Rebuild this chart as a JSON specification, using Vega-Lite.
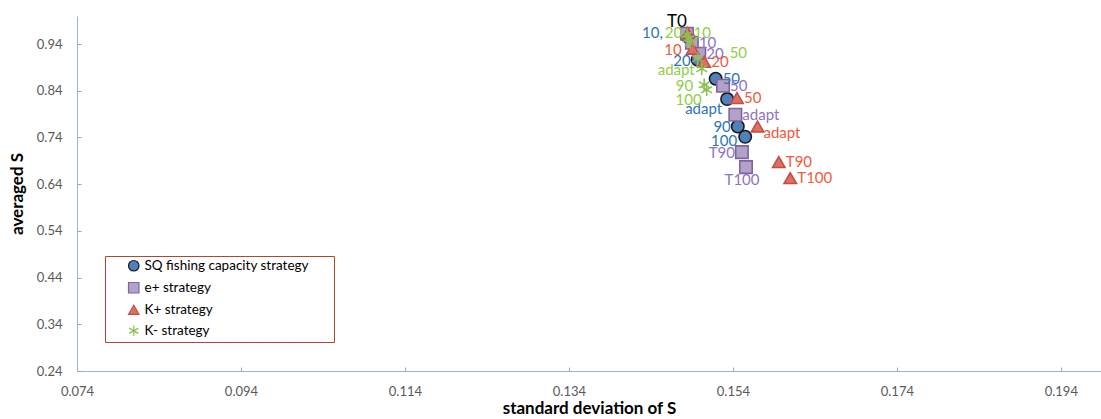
{
  "$schema": "https://vega.github.io/schema/vega-lite/v6.json",
  "width": 1024,
  "height": 355,
  "autosize": {"type": "none"},
  "padding": {"left": 77, "top": 16, "right": 0, "bottom": 48},
  "background": "white",
  "config": {
    "font": "Lato",
    "view": {"stroke": null},
    "axis": {"grid": false, "labelFont": "Lato", "titleFont": "Lato", "labelColor": "#595959", "labelFontSize": 13, "titleFontSize": 16, "titleFontWeight": "bold", "titleColor": "#000000", "domainColor": "#93b9c9", "tickColor": "#a0a0a0", "tickSize": -4},
    "legend": {"orient": "none", "legendX": 28, "legendY": 240, "strokeColor": "#b5462b", "padding": 3, "symbolOffset": 19, "labelFontSize": 13.5, "labelColor": "#000000", "labelFont": "Lato", "rowPadding": 6, "symbolSize": 110, "symbolStrokeWidth": 1.2, "labelLimit": 400, "titleOrient": "right", "titleColor": "rgba(255,255,255,0)", "titleFontSize": 13, "titleFontWeight": "normal", "titlePadding": 0}
  },
  "data": {
    "values": [
      {"strategy": "SQ fishing capacity strategy", "code": "SQ", "step": "T0", "sd": 0.1484, "avg": 0.960},
      {"strategy": "SQ fishing capacity strategy", "code": "SQ", "step": "10", "sd": 0.1485, "avg": 0.9557},
      {"strategy": "SQ fishing capacity strategy", "code": "SQ", "step": "20", "sd": 0.1497, "avg": 0.9064},
      {"strategy": "SQ fishing capacity strategy", "code": "SQ", "step": "50", "sd": 0.1519, "avg": 0.8657},
      {"strategy": "SQ fishing capacity strategy", "code": "SQ", "step": "adapt", "sd": 0.1533, "avg": 0.8222},
      {"strategy": "SQ fishing capacity strategy", "code": "SQ", "step": "90", "sd": 0.1546, "avg": 0.7635},
      {"strategy": "SQ fishing capacity strategy", "code": "SQ", "step": "100", "sd": 0.1555, "avg": 0.7414},
      {"strategy": "e+ strategy", "code": "e+", "step": "T0", "sd": 0.1484, "avg": 0.9621},
      {"strategy": "e+ strategy", "code": "e+", "step": "10", "sd": 0.1490, "avg": 0.9428},
      {"strategy": "e+ strategy", "code": "e+", "step": "20", "sd": 0.1499, "avg": 0.9192},
      {"strategy": "e+ strategy", "code": "e+", "step": "50", "sd": 0.1528, "avg": 0.8507},
      {"strategy": "e+ strategy", "code": "e+", "step": "adapt", "sd": 0.1543, "avg": 0.7885},
      {"strategy": "e+ strategy", "code": "e+", "step": "T90", "sd": 0.1551, "avg": 0.7086},
      {"strategy": "e+ strategy", "code": "e+", "step": "T100", "sd": 0.1556, "avg": 0.6765},
      {"strategy": "K+ strategy", "code": "K+", "step": "T0", "sd": 0.1485, "avg": 0.9636},
      {"strategy": "K+ strategy", "code": "K+", "step": "10", "sd": 0.1491, "avg": 0.9300},
      {"strategy": "K+ strategy", "code": "K+", "step": "20", "sd": 0.1505, "avg": 0.9021},
      {"strategy": "K+ strategy", "code": "K+", "step": "50", "sd": 0.1545, "avg": 0.8243},
      {"strategy": "K+ strategy", "code": "K+", "step": "adapt", "sd": 0.1570, "avg": 0.7635},
      {"strategy": "K+ strategy", "code": "K+", "step": "T90", "sd": 0.1596, "avg": 0.6872},
      {"strategy": "K+ strategy", "code": "K+", "step": "T100", "sd": 0.1610, "avg": 0.6529},
      {"strategy": "K- strategy", "code": "K-", "step": "T0", "sd": 0.1484, "avg": 0.960},
      {"strategy": "K- strategy", "code": "K-", "step": "10", "sd": 0.1486, "avg": 0.9514},
      {"strategy": "K- strategy", "code": "K-", "step": "20", "sd": 0.1488, "avg": 0.9428},
      {"strategy": "K- strategy", "code": "K-", "step": "50", "sd": 0.1497, "avg": 0.9085},
      {"strategy": "K- strategy", "code": "K-", "step": "adapt", "sd": 0.1502, "avg": 0.8871},
      {"strategy": "K- strategy", "code": "K-", "step": "90", "sd": 0.1505, "avg": 0.8528},
      {"strategy": "K- strategy", "code": "K-", "step": "100", "sd": 0.1508, "avg": 0.8421}
    ]
  },
  "encoding": {
    "x": {"field": "sd", "type": "quantitative", "title": "standard deviation of S",
      "scale": {"domain": [0.074, 0.1989], "nice": false, "zero": false},
      "axis": {"values": [0.074, 0.094, 0.114, 0.134, 0.154, 0.174, 0.194], "format": ".3f", "labelPadding": 18, "titlePadding": 2, "labelFlush": false, "titleFontSize": 17}},
    "y": {"field": "avg", "type": "quantitative", "title": "averaged S",
      "scale": {"domain": [0.24, 1.0], "nice": false, "zero": false},
      "axis": {"values": [0.24, 0.34, 0.44, 0.54, 0.64, 0.74, 0.84, 0.94], "format": ".2f", "labelPadding": 19, "titlePadding": 10, "labelFlush": false, "titleFontSize": 17}}
  },
  "layer": [
    {
      "mark": {"type": "point", "size": 155, "strokeWidth": 1.6, "opacity": 1, "fillOpacity": 1},
      "encoding": {
        "fill": {"field": "strategy", "type": "nominal",
          "scale": {"domain": ["SQ fishing capacity strategy", "e+ strategy", "K+ strategy", "K- strategy"], "range": ["#4f81bd", "#b3a2c7", "#e0705c", "transparent"]},
          "legend": {"title": "nnn"}},
        "stroke": {"field": "strategy", "type": "nominal",
          "scale": {"domain": ["SQ fishing capacity strategy", "e+ strategy", "K+ strategy", "K- strategy"], "range": ["#1a1a1a", "#8064a2", "#c0504d", "#8cc152"]},
          "legend": {"title": "nnn"}},
        "shape": {"field": "strategy", "type": "nominal",
          "scale": {"domain": ["SQ fishing capacity strategy", "e+ strategy", "K+ strategy", "K- strategy"], "range": ["circle", "square", "triangle-up", "M0,-1L0,1M-0.87,-0.5L0.87,0.5M-0.87,0.5L0.87,-0.5"]},
          "legend": {"title": "nnn"}}
      }
    },
    {
      "transform": [{"filter": "indexof(['SQ|50','e+|10','e+|20','e+|50','e+|adapt','K+|20','K+|50','K+|T90','K+|T100'], datum.code + '|' + datum.step) >= 0"}],
      "mark": {"type": "text", "align": "left", "baseline": "middle", "dx": 7, "dy": 0, "fontSize": 15},
      "encoding": {"text": {"field": "step"}, "color": {"field": "strategy", "type": "nominal", "legend": null, "scale": {"domain": ["SQ fishing capacity strategy", "e+ strategy", "K+ strategy", "K- strategy"], "range": ["#2e75b6", "#8e74c4", "#f05a3c", "#8fce4a"]}}}
    },
    {
      "transform": [{"filter": "indexof(['SQ|20','SQ|90','K-|adapt','e+|T90'], datum.code + '|' + datum.step) >= 0"}],
      "mark": {"type": "text", "align": "right", "baseline": "middle", "dx": -7, "dy": 1, "fontSize": 15},
      "encoding": {"text": {"field": "step"}, "color": {"field": "strategy", "type": "nominal", "legend": null}}
    },
    {
      "transform": [{"filter": "indexof(['K+|10','K-|90'], datum.code + '|' + datum.step) >= 0"}],
      "mark": {"type": "text", "align": "right", "baseline": "middle", "dx": -11, "dy": 1, "fontSize": 15},
      "encoding": {"text": {"field": "step"}, "color": {"field": "strategy", "type": "nominal", "legend": null}}
    },
    {
      "transform": [{"filter": "indexof(['SQ|adapt','K-|100'], datum.code + '|' + datum.step) >= 0"}],
      "mark": {"type": "text", "align": "right", "baseline": "middle", "dx": -5, "dy": 10, "fontSize": 15},
      "encoding": {"text": {"field": "step"}, "color": {"field": "strategy", "type": "nominal", "legend": null}}
    },
    {
      "transform": [{"filter": "datum.code == 'SQ' && datum.step == '100'"}],
      "mark": {"type": "text", "align": "right", "baseline": "middle", "dx": -8, "dy": 4, "fontSize": 15},
      "encoding": {"text": {"field": "step"}, "color": {"field": "strategy", "type": "nominal", "legend": null}}
    },
    {
      "transform": [{"filter": "datum.code == 'e+' && datum.step == 'T100'"}],
      "mark": {"type": "text", "align": "center", "baseline": "middle", "dx": -4, "dy": 13, "fontSize": 15},
      "encoding": {"text": {"field": "step"}, "color": {"field": "strategy", "type": "nominal", "legend": null}}
    },
    {
      "transform": [{"filter": "datum.code == 'K+' && datum.step == 'adapt'"}],
      "mark": {"type": "text", "align": "left", "baseline": "middle", "dx": 6, "dy": 7, "fontSize": 15},
      "encoding": {"text": {"field": "step"}, "color": {"field": "strategy", "type": "nominal", "legend": null}}
    },
    {
      "transform": [{"filter": "datum.code == 'SQ' && datum.step == '10'"}],
      "mark": {"type": "text", "align": "right", "baseline": "middle", "dx": -25, "dy": -4, "fontSize": 15},
      "encoding": {"text": {"value": "10,"}, "color": {"field": "strategy", "type": "nominal", "legend": null}}
    },
    {
      "transform": [{"filter": "datum.code == 'K-' && datum.step == '20'"}],
      "mark": {"type": "text", "align": "right", "baseline": "middle", "dx": -8, "dy": -10, "fontSize": 15},
      "encoding": {"text": {"field": "step"}, "color": {"field": "strategy", "type": "nominal", "legend": null}}
    },
    {
      "transform": [{"filter": "datum.code == 'K-' && datum.step == '10'"}],
      "mark": {"type": "text", "align": "left", "baseline": "middle", "dx": 5, "dy": -6, "fontSize": 15},
      "encoding": {"text": {"field": "step"}, "color": {"field": "strategy", "type": "nominal", "legend": null}}
    },
    {
      "transform": [{"filter": "datum.code == 'K-' && datum.step == '50'"}],
      "mark": {"type": "text", "align": "left", "baseline": "middle", "dx": 32, "dy": -6, "fontSize": 15},
      "encoding": {"text": {"field": "step"}, "color": {"field": "strategy", "type": "nominal", "legend": null}}
    },
    {
      "transform": [{"filter": "datum.code == 'SQ' && datum.step == 'T0'"}],
      "mark": {"type": "text", "align": "center", "baseline": "middle", "dx": -10, "dy": -13, "fontSize": 17, "color": "#000000"},
      "encoding": {"text": {"field": "step"}}
    }
  ]
}
